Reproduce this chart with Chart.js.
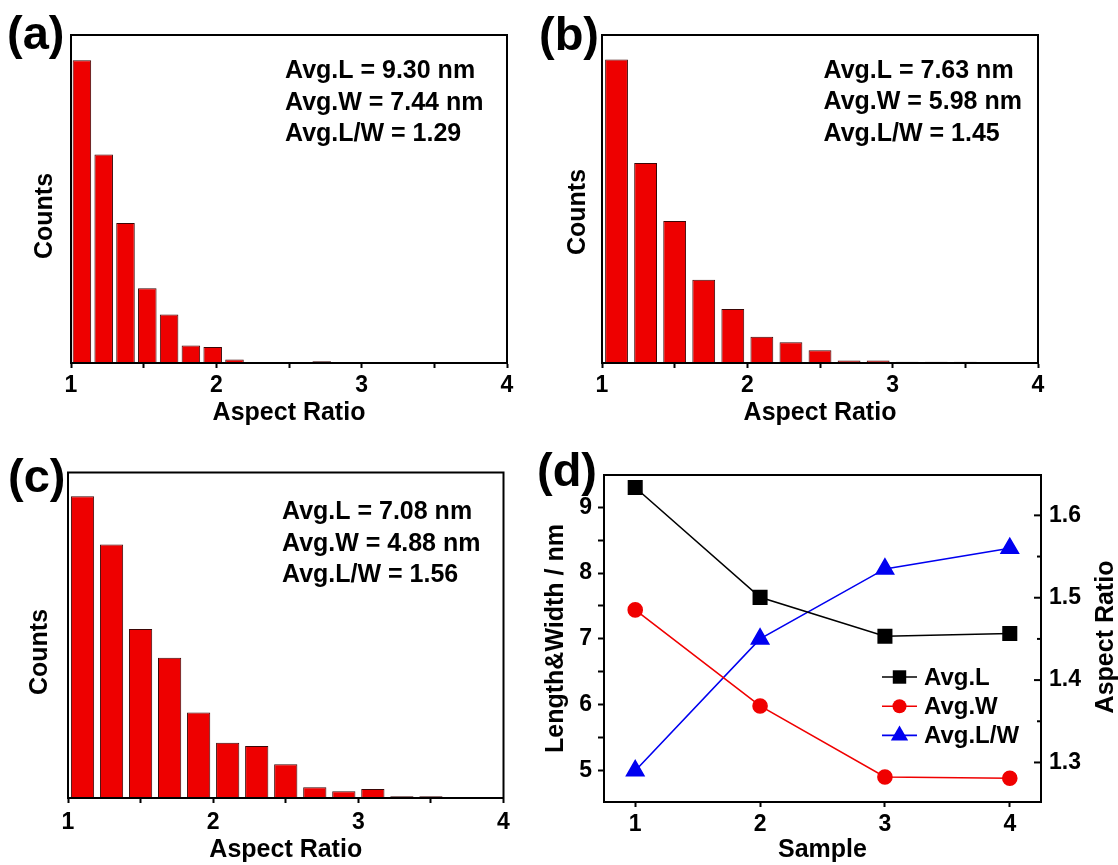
<!DOCTYPE html>
<html>
<head>
<meta charset="utf-8">
<title>Aspect ratio histograms and averages</title>
<script src="https://cdn.jsdelivr.net/npm/chart.js@4.4.1/dist/chart.umd.min.js"></script>
<style>
  html, body { margin: 0; padding: 0; background: #fff; }
  body { width: 1118px; height: 865px; position: relative; overflow: hidden; }
  canvas { position: absolute; }
</style>
</head>
<body>
<canvas id="chartA" width="530" height="432" style="left:0;top:0"></canvas>
<canvas id="chartB" width="588" height="432" style="left:530px;top:0"></canvas>
<canvas id="chartC" width="530" height="433" style="left:0;top:432px"></canvas>
<canvas id="chartD" width="588" height="433" style="left:530px;top:432px"></canvas>
<script>
// ---- data ----
// histograms: bin centres (aspect ratio) and relative counts
const binsA = [1.075, 1.225, 1.375, 1.525, 1.675, 1.825, 1.975, 2.125, 2.275, 2.425, 2.575, 2.725];
const countsA = [92.3, 63.6, 42.7, 22.8, 14.8, 5.3, 4.9, 1.1, 0, 0, 0, 0.5];
const binsB = [1.1, 1.3, 1.5, 1.7, 1.9, 2.1, 2.3, 2.5, 2.7, 2.9, 3.1, 3.3, 3.5];
const countsB = [92.5, 61.0, 43.3, 25.4, 16.5, 8.0, 6.3, 3.9, 0.8, 0.8, 0.4, 0.4, 0.4];
const binsC = [1.1, 1.3, 1.5, 1.7, 1.9, 2.1, 2.3, 2.5, 2.7, 2.9, 3.1, 3.3, 3.5];
const countsC = [92.7, 77.9, 51.9, 43.1, 26.3, 17.0, 16.0, 10.4, 3.3, 2.1, 2.8, 0.5, 0.5];

const statsA = ["Avg.L = 9.30 nm", "Avg.W = 7.44 nm", "Avg.L/W = 1.29"];
const statsB = ["Avg.L = 7.63 nm", "Avg.W = 5.98 nm", "Avg.L/W = 1.45"];
const statsC = ["Avg.L = 7.08 nm", "Avg.W = 4.88 nm", "Avg.L/W = 1.56"];

// panel (d): averages per sample
const samples = [1, 2, 3, 4];
const avgLength = [9.30, 7.63, 7.04, 7.08];
const avgWidth = [7.44, 5.98, 4.90, 4.88];
const avgRatio = [1.29, 1.45, 1.535, 1.56];

const FONT = "'Liberation Sans', Arial, Helvetica, sans-serif";
Chart.defaults.font.family = FONT;
Chart.defaults.font.weight = "bold";
Chart.defaults.font.size = 23;
Chart.defaults.color = "#000";

// frame round the plot area
const boxPlugin = {
  id: "box",
  afterDraw(chart) {
    const a = chart.chartArea, ctx = chart.ctx;
    ctx.save();
    ctx.strokeStyle = "#000";
    ctx.lineWidth = 2;
    ctx.strokeRect(a.left, a.top, a.right - a.left, a.bottom - a.top);
    ctx.restore();
  }
};

// free text: panel letters, stats, rotated titles
const notesPlugin = {
  id: "notes",
  afterDraw(chart, args, opts) {
    const ctx = chart.ctx;
    (opts.items || []).forEach((n) => {
      ctx.save();
      ctx.font = "bold " + n.size + "px " + FONT;
      ctx.fillStyle = "#000";
      ctx.textAlign = n.align || "left";
      ctx.textBaseline = n.base || "alphabetic";
      ctx.translate(n.x, n.y);
      if (n.rot) ctx.rotate((n.rot * Math.PI) / 180);
      ctx.fillText(n.text, 0, 0);
      ctx.restore();
    });
  }
};

function statLines(lines, x, y0, step) {
  return lines.map((t, i) => ({ text: t, x: x, y: y0 + i * step, size: 25 }));
}

function histogram(id, bins, counts, barPct, geo, notes) {
  new Chart(document.getElementById(id), {
    type: "bar",
    data: {
      datasets: [
        {
          data: bins.map((b, i) => ({ x: b, y: counts[i] })),
          backgroundColor: "#EE0000",
          borderColor: "#3a0606",
          borderWidth: 1,
          categoryPercentage: 1,
          barPercentage: barPct
        }
      ]
    },
    options: {
      responsive: false,
      animation: false,
      layout: { padding: geo.pad },
      plugins: {
        legend: { display: false },
        tooltip: { enabled: false },
        notes: { items: notes }
      },
      scales: {
        x: {
          type: "linear",
          min: 1,
          max: 4,
          offset: false,
          grid: { offset: false, drawOnChartArea: false, tickLength: 5, tickWidth: 2, tickColor: "#000" },
          border: { color: "#000", width: 2 },
          ticks: {
            stepSize: 0.5,
            autoSkip: false,
            maxRotation: 0,
            padding: geo.tickPad,
            callback: (v) => (Number.isInteger(v) ? v : "")
          },
          title: { display: true, text: "Aspect Ratio", font: { size: 25 }, padding: { top: 0, bottom: geo.titlePad } },
          afterFit: (s) => { s.height = geo.xh; }
        },
        y: {
          min: 0,
          max: 100,
          grid: { display: false },
          ticks: { display: false },
          border: { color: "#000", width: 2 },
          afterFit: (s) => { s.width = geo.yw; }
        }
      }
    },
    plugins: [boxPlugin, notesPlugin]
  });
}

histogram("chartA", binsA, countsA, 0.85,
  { pad: { left: 0, top: 35, right: 23, bottom: 0 }, yw: 71, xh: 69, tickPad: 3.5, titlePad: 4 },
  [
    { text: "(a)", x: 7, y: 36, size: 47, base: "middle" },
    { text: "Counts", x: 45, y: 216, size: 25, rot: -90, align: "center", base: "middle" }
  ].concat(statLines(statsA, 285, 78, 31.6)));

histogram("chartB", binsB, countsB, 0.785,
  { pad: { left: 0, top: 35, right: 80, bottom: 0 }, yw: 72, xh: 69, tickPad: 3.5, titlePad: 4 },
  [
    { text: "(b)", x: 9, y: 37, size: 47, base: "middle" },
    { text: "Counts", x: 48, y: 212, size: 25, rot: -90, align: "center", base: "middle" }
  ].concat(statLines(statsB, 293.5, 77.6, 31.6)));

histogram("chartC", binsC, countsC, 0.8,
  { pad: { left: 0, top: 40.5, right: 26.5, bottom: 0 }, yw: 68, xh: 67, tickPad: 5.5, titlePad: 0 },
  [
    { text: "(c)", x: 8, y: 47, size: 47, base: "middle" },
    { text: "Counts", x: 40, y: 220, size: 25, rot: -90, align: "center", base: "middle" }
  ].concat(statLines(statsC, 282, 87.3, 31.2)));

// ---- panel (d) ----
function marker(ctx, style, r, x, y) {
  ctx.beginPath();
  if (style === "rect") {
    const h = r * Math.SQRT1_2;
    ctx.rect(x - h, y - h, 2 * h, 2 * h);
  } else if (style === "circle") {
    ctx.arc(x, y, r, 0, 2 * Math.PI);
  } else {
    ctx.moveTo(x, y - r);
    ctx.lineTo(x + r * 0.866, y + r / 2);
    ctx.lineTo(x - r * 0.866, y + r / 2);
    ctx.closePath();
  }
  ctx.fill();
}

// legend drawn inside the plot, line + marker like the original
const legendInside = {
  id: "legendInside",
  afterDraw(chart, args, opts) {
    const ctx = chart.ctx;
    chart.data.datasets.forEach((ds, i) => {
      const y = opts.y + i * opts.row;
      ctx.save();
      ctx.strokeStyle = ds.borderColor;
      ctx.fillStyle = ds.borderColor;
      ctx.lineWidth = ds.borderWidth;
      ctx.beginPath();
      ctx.moveTo(opts.x, y);
      ctx.lineTo(opts.x + opts.len, y);
      ctx.stroke();
      marker(ctx, ds.pointStyle, ds.pointRadius, opts.x + opts.len / 2, y);
      ctx.fillStyle = "#000";
      ctx.font = "bold " + opts.size + "px " + FONT;
      ctx.textBaseline = "middle";
      ctx.fillText(ds.label, opts.x + opts.len + 7, y + 1);
      ctx.restore();
    });
  }
};

// ticks of the right axis point inwards
const innerTicks = {
  id: "innerTicks",
  afterDraw(chart) {
    const s = chart.scales.y1, ctx = chart.ctx, right = chart.chartArea.right;
    ctx.save();
    ctx.strokeStyle = "#000";
    ctx.lineWidth = 2;
    s.ticks.forEach((t) => {
      const y = s.getPixelForValue(t.value);
      const major = Math.abs(t.value * 10 - Math.round(t.value * 10)) < 1e-6;
      ctx.beginPath();
      ctx.moveTo(right - (major ? 7 : 4), y);
      ctx.lineTo(right, y);
      ctx.stroke();
    });
    ctx.restore();
  }
};

new Chart(document.getElementById("chartD"), {
  type: "line",
  data: {
    datasets: [
      {
        label: "Avg.L",
        data: samples.map((s, i) => ({ x: s, y: avgLength[i] })),
        yAxisID: "y",
        borderColor: "#000000",
        backgroundColor: "#000000",
        borderWidth: 1.6,
        pointStyle: "rect",
        pointRadius: 9.5
      },
      {
        label: "Avg.W",
        data: samples.map((s, i) => ({ x: s, y: avgWidth[i] })),
        yAxisID: "y",
        borderColor: "#F00000",
        backgroundColor: "#F00000",
        borderWidth: 1.6,
        pointStyle: "circle",
        pointRadius: 7
      },
      {
        label: "Avg.L/W",
        data: samples.map((s, i) => ({ x: s, y: avgRatio[i] })),
        yAxisID: "y1",
        borderColor: "#0000F0",
        backgroundColor: "#0000F0",
        borderWidth: 1.6,
        pointStyle: "triangle",
        pointRadius: 10
      }
    ]
  },
  options: {
    responsive: false,
    animation: false,
    layout: { padding: { left: 0, top: 43, right: 0, bottom: 0 } },
    plugins: {
      legend: { display: false },
      tooltip: { enabled: false },
      legendInside: { x: 352, y: 245, row: 29.2, len: 35, size: 24 },
      notes: {
        items: [
          { text: "(d)", x: 7, y: 41, size: 47, base: "middle" },
          { text: "Aspect Ratio", x: 576, y: 205, size: 25, rot: -90, align: "center", base: "middle" }
        ]
      }
    },
    scales: {
      x: {
        type: "linear",
        min: 0.75,
        max: 4.25,
        grid: { drawOnChartArea: false, tickLength: 5, tickWidth: 2, tickColor: "#000" },
        border: { color: "#000", width: 2 },
        ticks: { stepSize: 1, includeBounds: false, padding: 3.5 },
        title: { display: true, text: "Sample", font: { size: 25 }, padding: { top: 0, bottom: 0 } },
        afterFit: (s) => { s.height = 63; }
      },
      y: {
        position: "left",
        min: 4.52,
        max: 9.49,
        grid: { drawOnChartArea: false, tickLength: 6, tickWidth: 2, tickColor: "#000" },
        border: { color: "#000", width: 2 },
        ticks: {
          stepSize: 0.5,
          includeBounds: false,
          autoSkip: false,
          padding: 6,
          callback: (v) => (Number.isInteger(v) ? v : "")
        },
        title: { display: true, text: "Length&Width / nm", font: { size: 25 }, padding: { top: 11, bottom: 0 } },
        afterFit: (s) => { s.width = 74; }
      },
      y1: {
        position: "right",
        min: 1.252,
        max: 1.649,
        grid: { drawOnChartArea: false, drawTicks: false },
        border: { color: "#000", width: 2 },
        ticks: {
          stepSize: 0.05,
          includeBounds: false,
          autoSkip: false,
          padding: 8,
          callback: (v) => (Math.abs(v * 10 - Math.round(v * 10)) < 1e-6 ? v.toFixed(1) : "")
        },
        afterFit: (s) => { s.width = 77; }
      }
    }
  },
  plugins: [boxPlugin, innerTicks, legendInside, notesPlugin]
});
</script>
</body>
</html>
